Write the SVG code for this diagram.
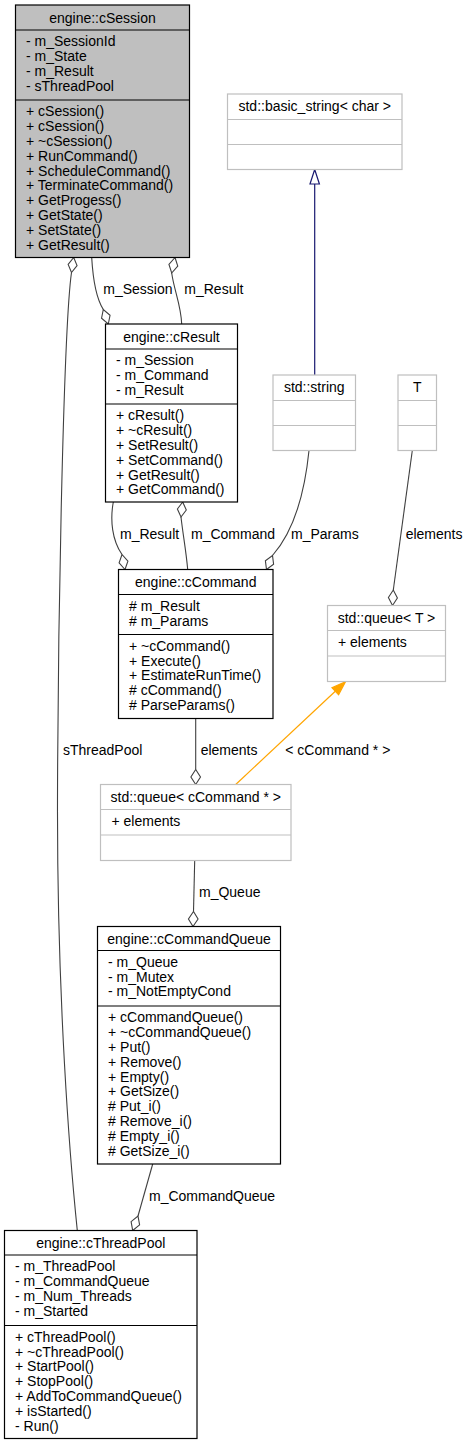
<svg xmlns="http://www.w3.org/2000/svg" width="468" height="1445" viewBox="0 0 468 1445">
<style>
text{font-family:"Liberation Sans",Arial,Helvetica,sans-serif;font-size:14px;fill:#000}
.t{text-anchor:middle}
.box{fill:#fff;stroke:#000;stroke-width:1.2}
.cur{fill:#bfbfbf;stroke:#000;stroke-width:1.2}
.ext{fill:#fff;stroke:#bfbfbf;stroke-width:1.2}
.sep{stroke:#000;stroke-width:1.2}
.sepx{stroke:#bfbfbf;stroke-width:1.2}
.e{fill:none;stroke:#404040;stroke-width:1.1}
.d{fill:#fff;stroke:#404040;stroke-width:1.1}
</style>
<rect width="468" height="1445" fill="#fff"/>
<g id="connectors">
<path class="e" d="M71.5,272.5 C64,325 58,600 57.5,800 C57,1000 70,1160 77.3,1230.5"/>
<polygon class="d" points="73.7,257.5 77.05,265.65 71.5,272.5 68.15,264.35"/>
<text x="63" y="755">sThreadPool</text>
<path class="e" d="M91.7,257.5 C93,280 96,298 103.3,309.5"/>
<polygon class="d" points="108.3,324 110.05,315.28 103.3,309.5 101.55,318.22"/>
<text x="103.3" y="294">m_Session</text>
<path class="e" d="M171.7,273 C174,290 181,305 181.7,324"/>
<polygon class="d" points="175,257.5 177.75,266.19 171.7,273 168.95,264.31"/>
<text x="184.3" y="294">m_Result</text>
<path class="e" d="M113.3,502 C110,520 112,540 122,554.5"/>
<polygon class="d" points="125,569.5 127.9,561.1 122,554.5 119.1,562.9"/>
<text x="120" y="539">m_Result</text>
<path class="e" d="M181,517 C183,535 186,550 187.7,569.5"/>
<polygon class="d" points="182.7,502 186.3,510 181,517 177.4,509"/>
<text x="191" y="539">m_Command</text>
<path class="e" d="M309,450.5 C305,490 295,530 272.5,555.5"/>
<polygon class="d" points="266.5,569.5 273.6,564.3 272.5,555.5 265.4,560.7"/>
<text x="291" y="539">m_Params</text>
<path class="e" d="M412.3,450.5 L393.3,590"/>
<polygon class="d" points="392.5,605.5 397.4,597.97 393.3,590 388.4,597.53"/>
<text x="405.7" y="539">elements</text>
<path d="M314.7,375 L314.7,184" fill="none" stroke="#191970" stroke-width="1.2"/>
<polygon points="314.7,169.5 319.4,184 310,184" fill="#fff" stroke="#191970" stroke-width="1.2"/>
<path class="e" d="M195.7,718.5 L195.7,769.5"/>
<polygon class="d" points="195.7,784.5 200.5,777 195.7,769.5 190.9,777"/>
<text x="200.7" y="755">elements</text>
<path d="M235.7,784.5 L335.3,691.3" fill="none" stroke="#ffa500" stroke-width="1.2"/>
<polygon points="345.5,681.7 338.6,694.8 332,687.8" fill="#ffa500" stroke="#ffa500" stroke-width="1.2"/>
<text x="285.3" y="755">&lt; cCommand * &gt;</text>
<path class="e" d="M194.7,860.5 L193.5,911.5"/>
<polygon class="d" points="193,926.5 198.05,919 193.5,911.5 188.45,919"/>
<text x="199" y="897">m_Queue</text>
<path class="e" d="M152.7,1164 L138,1216"/>
<polygon class="d" points="132.7,1230.5 139.6,1224.8 138,1216 131.1,1221.7"/>
<text x="149" y="1201">m_CommandQueue</text>
</g>
<g id="cSession">
<rect class="cur" x="15.5" y="5" width="174" height="252.5"/>
<line class="sep" x1="15.5" y1="30" x2="189.5" y2="30"/>
<line class="sep" x1="15.5" y1="100" x2="189.5" y2="100"/>
<text class="t" x="102.5" y="22.5">engine::cSession</text>
<text x="26" y="46.3">- m_SessionId</text>
<text x="26" y="61.1">- m_State</text>
<text x="26" y="75.9">- m_Result</text>
<text x="26" y="90.7">- sThreadPool</text>
<text x="26" y="116.3">+ cSession()</text>
<text x="26" y="131.1">+ cSession()</text>
<text x="26" y="145.9">+ ~cSession()</text>
<text x="26" y="160.7">+ RunCommand()</text>
<text x="26" y="175.5">+ ScheduleCommand()</text>
<text x="26" y="190.3">+ TerminateCommand()</text>
<text x="26" y="205.1">+ GetProgess()</text>
<text x="26" y="219.9">+ GetState()</text>
<text x="26" y="234.7">+ SetState()</text>
<text x="26" y="249.5">+ GetResult()</text>
</g>
<g id="basic_string">
<rect class="ext" x="227.5" y="94" width="174.5" height="75.5"/>
<line class="sepx" x1="227.5" y1="119.5" x2="402" y2="119.5"/>
<line class="sepx" x1="227.5" y1="144.5" x2="402" y2="144.5"/>
<text class="t" x="314.75" y="111">std::basic_string&lt; char &gt;</text>
</g>
<g id="cResult">
<rect class="box" x="105.5" y="324" width="132" height="178"/>
<line class="sep" x1="105.5" y1="349" x2="237.5" y2="349"/>
<line class="sep" x1="105.5" y1="404" x2="237.5" y2="404"/>
<text class="t" x="171.5" y="341.5">engine::cResult</text>
<text x="116" y="365.3">- m_Session</text>
<text x="116" y="380.1">- m_Command</text>
<text x="116" y="394.9">- m_Result</text>
<text x="116" y="420.3">+ cResult()</text>
<text x="116" y="435.1">+ ~cResult()</text>
<text x="116" y="449.9">+ SetResult()</text>
<text x="116" y="464.7">+ SetCommand()</text>
<text x="116" y="479.5">+ GetResult()</text>
<text x="116" y="494.3">+ GetCommand()</text>
</g>
<g id="string">
<rect class="ext" x="273" y="375" width="82.5" height="75.5"/>
<line class="sepx" x1="273" y1="400.5" x2="355.5" y2="400.5"/>
<line class="sepx" x1="273" y1="425.5" x2="355.5" y2="425.5"/>
<text class="t" x="314.25" y="392">std::string</text>
</g>
<g id="T">
<rect class="ext" x="398" y="375" width="38.5" height="75.5"/>
<line class="sepx" x1="398" y1="400.5" x2="436.5" y2="400.5"/>
<line class="sepx" x1="398" y1="425.5" x2="436.5" y2="425.5"/>
<text class="t" x="417.25" y="392">T</text>
</g>
<g id="cCommand">
<rect class="box" x="118.5" y="569.5" width="154.5" height="149"/>
<line class="sep" x1="118.5" y1="594.5" x2="273" y2="594.5"/>
<line class="sep" x1="118.5" y1="634.5" x2="273" y2="634.5"/>
<text class="t" x="195.75" y="587">engine::cCommand</text>
<text x="129" y="610.8"># m_Result</text>
<text x="129" y="625.6"># m_Params</text>
<text x="129" y="650.8">+ ~cCommand()</text>
<text x="129" y="665.6">+ Execute()</text>
<text x="129" y="680.4">+ EstimateRunTime()</text>
<text x="129" y="695.2"># cCommand()</text>
<text x="129" y="710"># ParseParams()</text>
</g>
<g id="queueT">
<rect class="ext" x="327.5" y="605.5" width="118" height="76"/>
<line class="sepx" x1="327.5" y1="630.5" x2="445.5" y2="630.5"/>
<line class="sepx" x1="327.5" y1="656" x2="445.5" y2="656"/>
<text class="t" x="386.5" y="623">std::queue&lt; T &gt;</text>
<text x="338" y="646.8">+ elements</text>
</g>
<g id="queueCommand">
<rect class="ext" x="100.5" y="784.5" width="190.5" height="76"/>
<line class="sepx" x1="100.5" y1="809.5" x2="291" y2="809.5"/>
<line class="sepx" x1="100.5" y1="835" x2="291" y2="835"/>
<text class="t" x="195.75" y="802">std::queue&lt; cCommand * &gt;</text>
<text x="111.5" y="825.8">+ elements</text>
</g>
<g id="cCommandQueue">
<rect class="box" x="97.5" y="926.5" width="183" height="237.5"/>
<line class="sep" x1="97.5" y1="950.5" x2="280.5" y2="950.5"/>
<line class="sep" x1="97.5" y1="1006" x2="280.5" y2="1006"/>
<text class="t" x="189" y="944">engine::cCommandQueue</text>
<text x="108" y="966.8">- m_Queue</text>
<text x="108" y="981.6">- m_Mutex</text>
<text x="108" y="996.4">- m_NotEmptyCond</text>
<text x="108" y="1022.3">+ cCommandQueue()</text>
<text x="108" y="1037.1">+ ~cCommandQueue()</text>
<text x="108" y="1051.9">+ Put()</text>
<text x="108" y="1066.7">+ Remove()</text>
<text x="108" y="1081.5">+ Empty()</text>
<text x="108" y="1096.3">+ GetSize()</text>
<text x="108" y="1111.1"># Put_i()</text>
<text x="108" y="1125.9"># Remove_i()</text>
<text x="108" y="1140.7"># Empty_i()</text>
<text x="108" y="1155.5"># GetSize_i()</text>
</g>
<g id="cThreadPool">
<rect class="box" x="4.5" y="1230.5" width="192.5" height="208"/>
<line class="sep" x1="4.5" y1="1255" x2="197" y2="1255"/>
<line class="sep" x1="4.5" y1="1325.5" x2="197" y2="1325.5"/>
<text class="t" x="100.75" y="1248">engine::cThreadPool</text>
<text x="15" y="1271.3">- m_ThreadPool</text>
<text x="15" y="1286.1">- m_CommandQueue</text>
<text x="15" y="1300.9">- m_Num_Threads</text>
<text x="15" y="1315.7">- m_Started</text>
<text x="15" y="1341.8">+ cThreadPool()</text>
<text x="15" y="1356.6">+ ~cThreadPool()</text>
<text x="15" y="1371.4">+ StartPool()</text>
<text x="15" y="1386.2">+ StopPool()</text>
<text x="15" y="1401">+ AddToCommandQueue()</text>
<text x="15" y="1415.8">+ isStarted()</text>
<text x="15" y="1430.6">- Run()</text>
</g>
</svg>
